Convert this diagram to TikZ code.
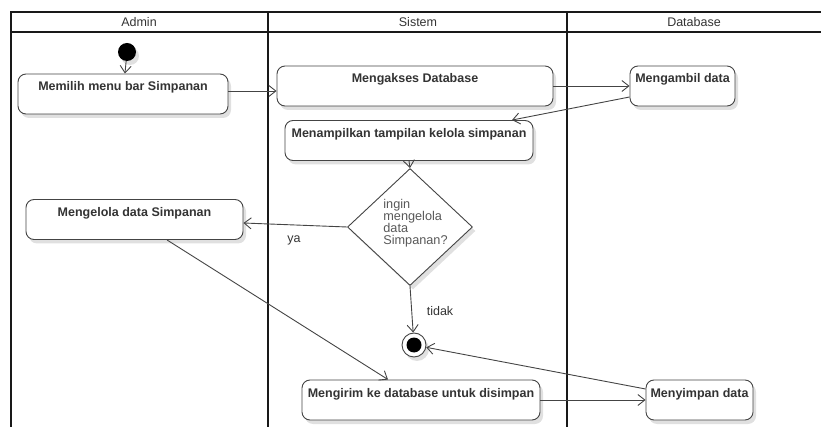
\documentclass[tikz,border=0pt]{standalone}
\usepackage{fontspec}
\setmainfont{Liberation Sans}
\usetikzlibrary{arrows.meta,shapes.geometric,shadows}
\definecolor{txt}{HTML}{333333}
\definecolor{edgec}{HTML}{444444}
\begin{document}
\begin{tikzpicture}[x=1pt,y=-1pt,
  lane/.style={line width=2pt,black!90},
  shade/.style={drop shadow={shadow xshift=3pt,shadow yshift=-4pt,fill=black!12,opacity=1}},
  act/.style={draw=edgec,line width=0.9pt,rounded corners=8pt,fill=white,shade,
    font=\fontsize{12.5}{14}\selectfont\bfseries,text=txt,
    inner xsep=2pt,inner ysep=3pt,text height=14pt,text depth=20pt},
  hdr/.style={font=\fontsize{12.5}{14}\selectfont,text=txt},
  lbl/.style={font=\fontsize{12.5}{14}\selectfont,text=txt},
  flow/.style={draw=edgec,line width=0.9pt,-{Straight Barb[length=7pt,width=11pt]}}]
\useasboundingbox (0,0) rectangle (821,427);
% swimlanes
\draw[lane] (11,427) -- (11,12) -- (821,12);
\draw[lane] (11,32) -- (821,32);
\draw[lane] (268,12) -- (268,427);
\draw[lane] (567,12) -- (567,427);
\node[hdr] (hadmin) at (139,22) {Admin};
\node[hdr] (hsistem) at (418,22) {Sistem};
\node[hdr] (hdb) at (694,22) {Database};
% nodes
\node[circle,fill=black,minimum size=18pt,inner sep=0pt,shade] (start) at (127,52) {};
\node[act,minimum width=210pt] (memilih) at (123,94) {Memilih menu bar Simpanan};
\node[act,minimum width=276pt] (mengakses) at (415,86) {Mengakses Database};
\node[act,minimum width=105pt] (mengambil) at (682.5,86) {Mengambil data};
\node[act,minimum width=248pt] (menampilkan) at (409,140.5) {Menampilkan tampilan kelola simpanan};
\node[diamond,draw=edgec,line width=0.9pt,fill=white,shade,minimum width=125pt,minimum height=117pt,inner sep=0pt] (dec) at (410,227) {};
\node[align=left,font=\fontsize{12.7}{12}\selectfont,text=black!65,inner sep=0pt] (dectext) at (415.5,223) {ingin\\mengelola\\data\\Simpanan?};
\node[act,minimum width=217pt] (mengelola) at (134.5,219.5) {Mengelola data Simpanan};
\node[circle,draw=edgec,line width=0.9pt,fill=white,minimum size=24pt,inner sep=0pt,shade] (final) at (414,345) {};
\node[circle,fill=black,minimum size=15pt,inner sep=0pt] (finalin) at (final.center) {};
\node[act,minimum width=238pt] (mengirim) at (421,400) {Mengirim ke database untuk disimpan};
\node[act,minimum width=107pt] (menyimpan) at (699.5,400) {Menyimpan data};
% connectors
\draw[flow] (start) -- (memilih);
\draw[flow] ([yshift=3pt]memilih.east) -- ([yshift=-5pt]mengakses.west);
\draw[flow] (mengakses.east) -- (mengambil.west);
\draw[flow] ([yshift=-11pt]mengambil.west) -- ([xshift=103pt]menampilkan.north);
\draw[flow] (menampilkan.south) -- (dec.north);
\draw[flow] (dec.west) -- ([yshift=-3.5pt]mengelola.east);
\node[lbl] (ya) at (294,240) {ya};
\draw[flow] ([xshift=32.5pt]mengelola.south) -- ([xshift=-33pt]mengirim.north);
\draw[flow] (dec.south) -- (final);
\node[lbl] (tidak) at (440,311) {tidak};
\draw[flow] (mengirim.east) -- (menyimpan.west);
\draw[flow] ([yshift=11pt]menyimpan.west) -- (final);
\end{tikzpicture}
\end{document}
